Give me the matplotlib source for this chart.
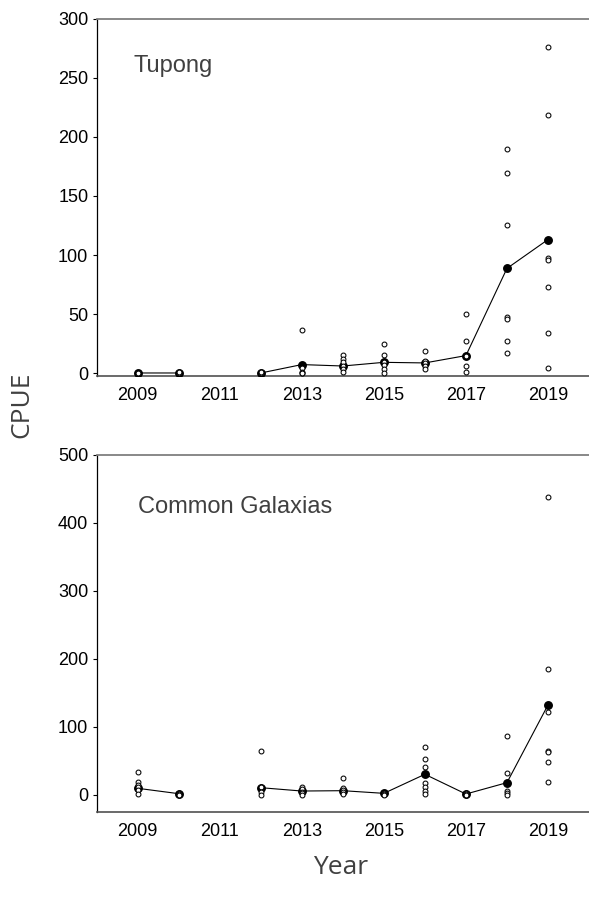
import numpy as np
import matplotlib
matplotlib.use("Agg")
import matplotlib.pyplot as plt

years = [2009, 2010, 2011, 2012, 2013, 2014, 2015, 2016, 2017, 2018, 2019]
xtick_years = [2009, 2011, 2013, 2015, 2017, 2019]

# Tupong CPUE (individual samples) and annual means
tupong_points = {
    2009: [0, 0, 0.3, 0.6],
    2010: [0, 0, 0.4, 0.8],
    2012: [0, 0, 0.3, 0.9],
    2013: [36.4, 4.2, 0.9, 0, 0],
    2014: [15.8, 12.2, 9.3, 6.0, 4.0, 0.9],
    2015: [25.1, 15.6, 9.9, 6.8, 3.7, 0.6],
    2016: [18.9, 10.7, 8.8, 5.9, 3.4],
    2017: [50.5, 27.0, 15.0, 5.9, 1.0],
    2018: [190, 169, 125, 47.8, 46.0, 27.7, 17.5],
    2019: [276, 218, 97.2, 96.0, 73.4, 34.0, 4.1],
}
tupong_mean = [0.3, 0.3, np.nan, 0.3, 7.4, 6.2, 9.3, 8.8, 15.0, 88.7, 113.1]

# Common Galaxias CPUE (individual samples) and annual means
galaxias_points = {
    2009: [33.8, 18.2, 14.3, 10.8, 6.9, 1.0],
    2010: [3.0, 1.5, 0.5, 0],
    2012: [64.3, 11.8, 4.4, 0],
    2013: [10.8, 7.9, 4.4, 2.0, 0],
    2014: [24.1, 9.4, 6.9, 4.4, 1.0],
    2015: [2.5, 1.0, 0],
    2016: [70.6, 52.0, 40.3, 16.7, 10.8, 5.4, 0.5],
    2017: [2.0, 1.0, 0],
    2018: [86.8, 32.4, 5.9, 3.0, 0],
    2019: [438.2, 184.9, 121.2, 64.7, 62.3, 47.6, 18.7],
}
galaxias_mean = [9.4, 1.5, np.nan, 10.3, 5.4, 5.9, 2.0, 30.0, 1.0, 17.7, 131.9]

panels = [
    ("Tupong", tupong_points, tupong_mean, (-2, 300), [0, 50, 100, 150, 200, 250, 300]),
    ("Common Galaxias", galaxias_points, galaxias_mean, (-25, 500), [0, 100, 200, 300, 400, 500]),
]

W, H = 589, 909
fig = plt.figure(figsize=(W / 100, H / 100), dpi=100)

tick_font = "Liberation Sans"
label_font = "Open Sans"
grey_text = "#404040"

axes_rects = [
    [96.7 / W, 1 - 375.7 / H, (W - 96.7) / W, 357.2 / H],
    [96.7 / W, 1 - 811.7 / H, (W - 96.7) / W, 357.0 / H],
]
title_pos = [(0.0743, 0.850), (0.0845, 0.837)]

for (name, pts, means, ylim, yticks), rect, tp in zip(panels, axes_rects, title_pos):
    ax = fig.add_axes(rect)
    ax.set_xlim(2008, 2020)
    ax.set_ylim(*ylim)
    # mean line with gap for missing year
    ax.plot(years, means, color="black", lw=0.8, zorder=2)
    ax.plot(years, means, linestyle="none", marker="o", ms=5.4,
            mfc="black", mec="black", zorder=3)
    for yr, vals in pts.items():
        ax.plot([yr] * len(vals), vals, linestyle="none", marker="o", ms=3.5,
                mfc="white", mec="black", mew=0.75, zorder=4)
    ax.text(tp[0], tp[1], name, transform=ax.transAxes, fontsize=17,
            family=tick_font, color=grey_text, va="baseline", ha="left")
    ax.set_xticks(xtick_years)
    ax.set_xticklabels([str(y) for y in xtick_years])
    ax.set_yticks(yticks)
    ax.tick_params(axis="x", length=0, pad=8, labelsize=13)
    ax.tick_params(axis="y", length=3, width=0.8, pad=3, labelsize=13, direction="out")
    for lab in ax.get_xticklabels() + ax.get_yticklabels():
        lab.set_family(tick_font)
        lab.set_color("black")
    ax.spines["right"].set_visible(False)
    ax.spines["top"].set_color("#7f7f7f")
    ax.spines["top"].set_linewidth(1.3)
    ax.spines["left"].set_color("black")
    ax.spines["left"].set_linewidth(0.9)
    ax.spines["bottom"].set_color("#505050")
    ax.spines["bottom"].set_linewidth(1.2)
    ax.patch.set_alpha(0)

fig.text(22 / W, 1 - 405 / H, "CPUE", rotation=90, fontsize=19, family=label_font,
         color=grey_text, ha="center", va="center")
fig.text(341 / W, 1 - 868 / H, "Year", fontsize=19, family=label_font,
         color=grey_text, ha="center", va="center")

fig.savefig("out.png", dpi=100)
